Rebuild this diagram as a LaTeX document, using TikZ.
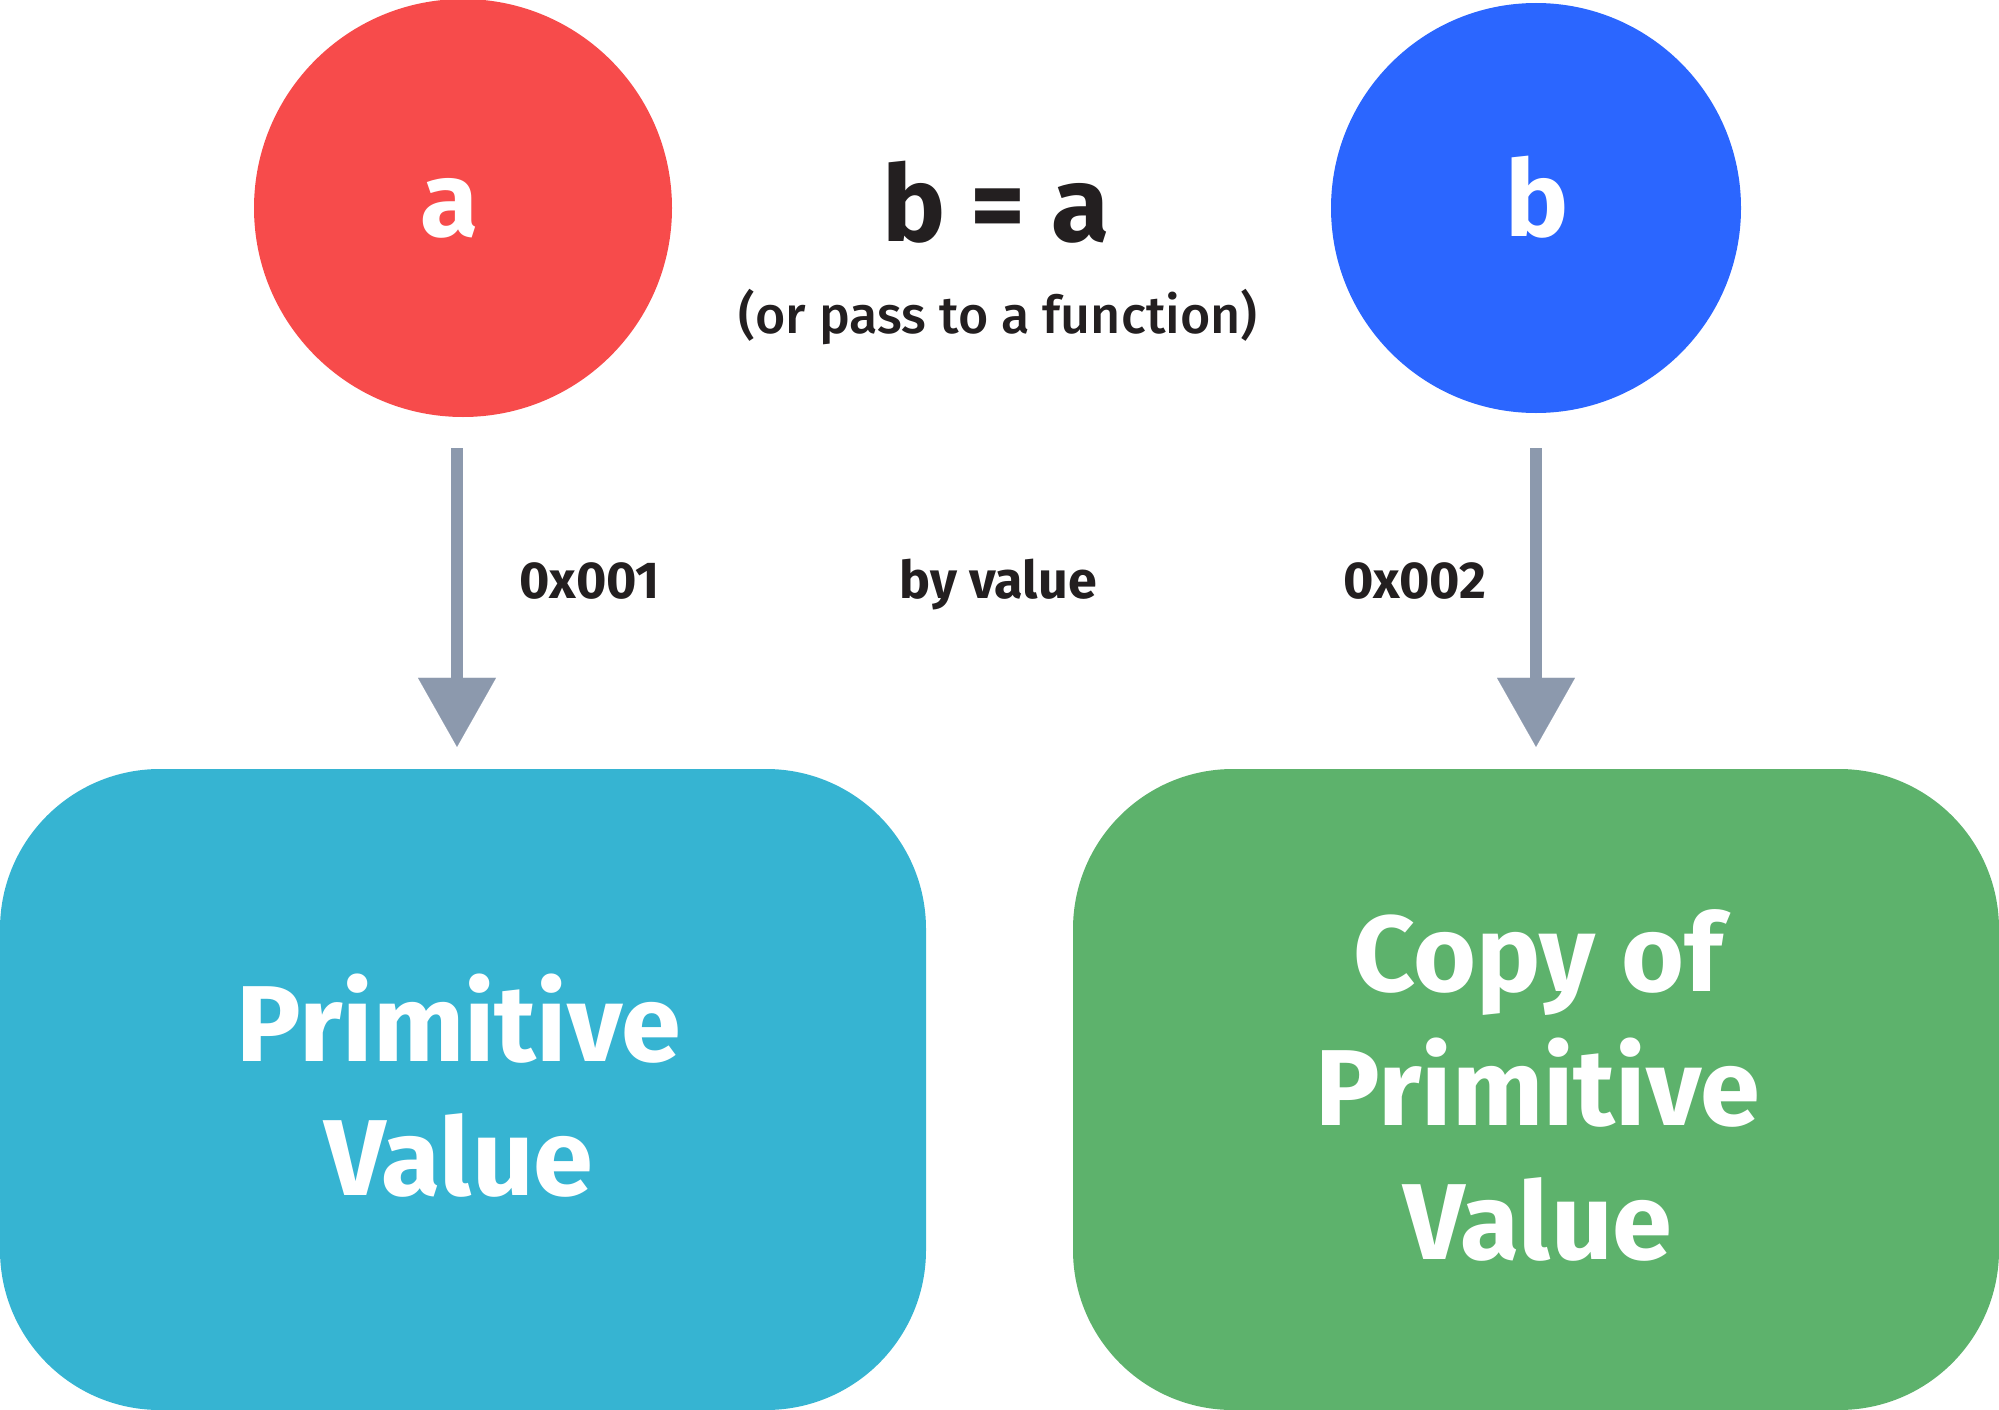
\documentclass[tikz,border=0pt]{standalone}
\usepackage{fontspec}
\setmainfont{Fira Sans}
\newfontfamily\medfont{Fira Sans Medium}
\usetikzlibrary{arrows.meta}
\definecolor{cRed}{HTML}{F74B4B}
\definecolor{cBlue}{HTML}{2B66FF}
\definecolor{cCyan}{HTML}{36B4D2}
\definecolor{cGreen}{HTML}{5DB26C}
\definecolor{cArrow}{HTML}{8C99AD}
\definecolor{cText}{HTML}{231F20}
\tikzset{
  circ/.style={circle, inner sep=0pt, draw=none},
  bigtxt/.style={text=white, font=\bfseries\fontsize{106pt}{134pt}\selectfont, inner sep=0pt},
  rbox/.style={rectangle, rounded corners=160pt, minimum width=926pt, minimum height=641pt, inner sep=0pt, draw=none},
  boxtxt/.style={text=white, font=\bfseries\fontsize{108pt}{134pt}\selectfont, align=center, inner sep=0pt},
  lbl/.style={text=cText, font=\bfseries\fontsize{52pt}{60pt}\selectfont, inner sep=0pt, anchor=base},
  conn/.style={draw=cArrow, line width=12pt, -{Triangle[width=78pt,length=69pt,line width=0.1pt]}},
}
\begin{document}
\begin{tikzpicture}[x=1pt,y=-1pt]
\useasboundingbox (0,0) rectangle (1999,1410);
% circles
\node[circ, fill=cRed, minimum size=418pt] (a) at (463,208) {};
\node[circ, fill=cBlue, minimum size=410pt] (b) at (1536,208) {};
\node[bigtxt, anchor=base] (atxt) at (449.5,236) {a};
\node[bigtxt, anchor=base] (btxt) at (1537,236) {b};
% assignment
\node[text=cText, font=\bfseries\fontsize{106pt}{120pt}\selectfont, inner sep=0pt, anchor=base] (eq) at (996,241) {b = a};
\node[text=cText, font=\medfont\fontsize{52pt}{60pt}\selectfont, inner sep=0pt, anchor=base] (pass) at (998,333) {(or pass to a function)};
% boxes
\node[rbox, fill=cCyan] (p) at (463,1089.5) {};
\node[rbox, fill=cGreen] (c) at (1536,1089.5) {};
\node[boxtxt] (ptxt) at (459,1086) {Primitive\\Value};
\node[boxtxt] (ctxt) at (1538,1085) {Copy of\\Primitive\\Value};
% connectors
\draw[conn] ([shift={(-6,31)}]a.south) -- ([shift={(-6,-22)}]p.north);
\draw[conn] ([shift={(0,35)}]b.south) -- ([shift={(0,-22)}]c.north);
% labels
\node[lbl] (l1) at (590,598) {0x001};
\node[lbl] (l2) at (998,598) {by value};
\node[lbl] (l3) at (1415,598) {0x002};
\end{tikzpicture}
\end{document}
